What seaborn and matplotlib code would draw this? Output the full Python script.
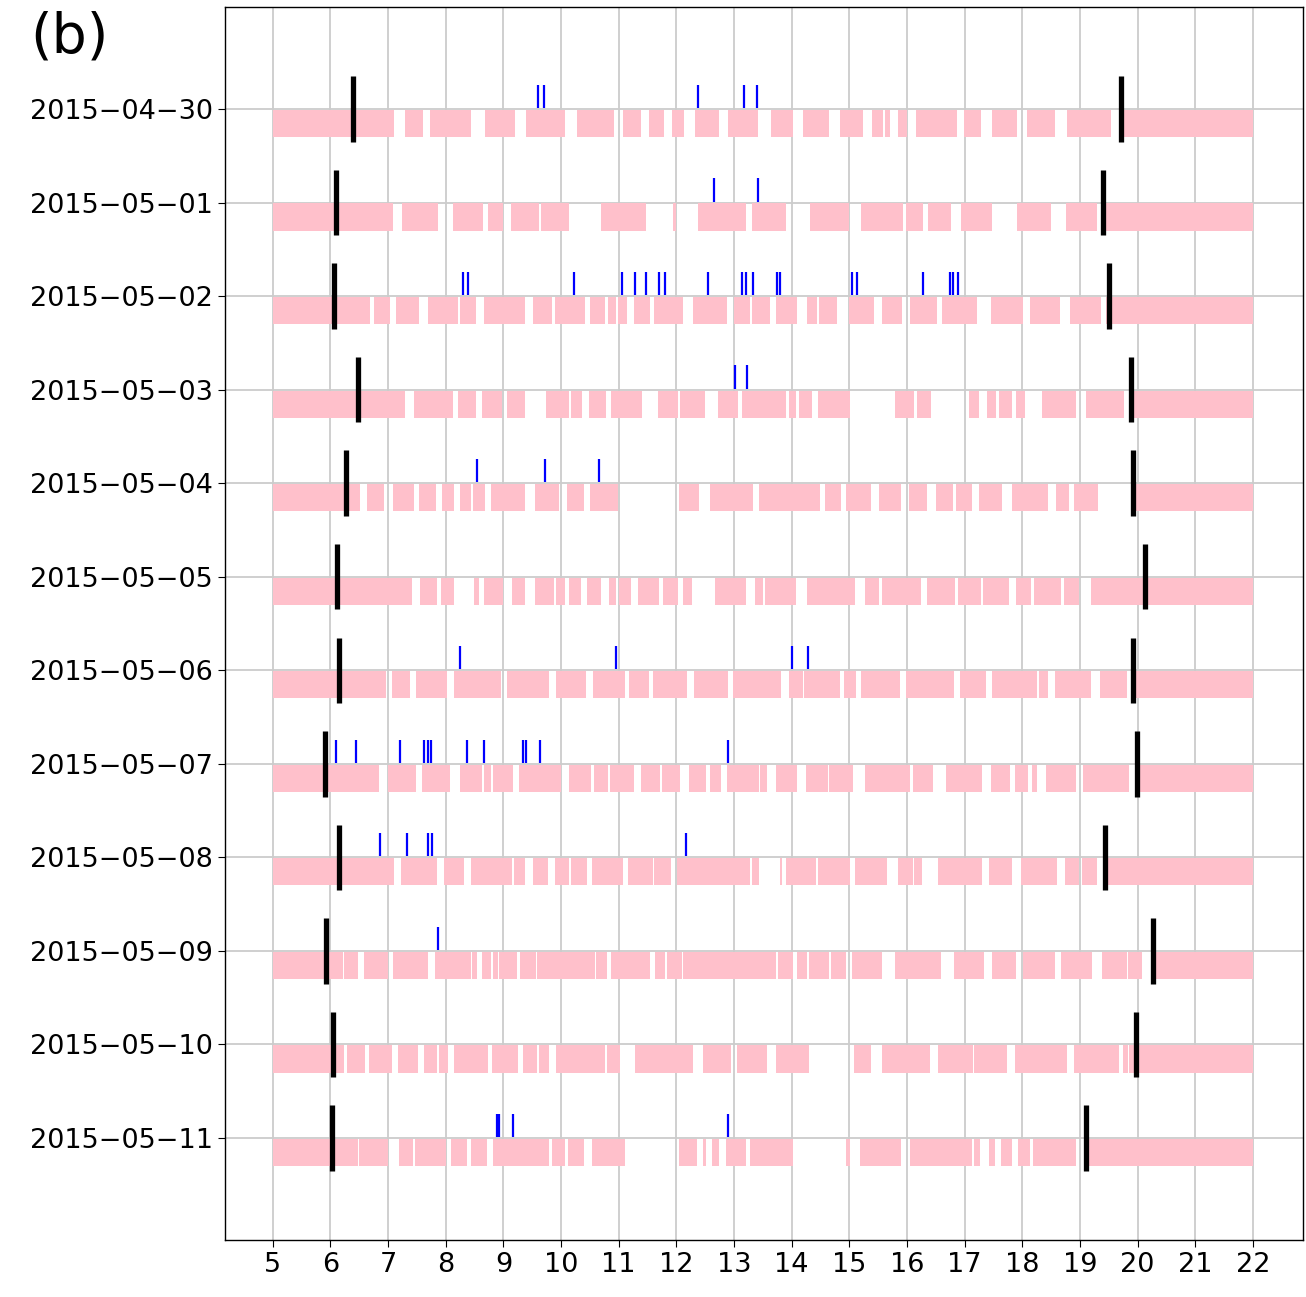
import matplotlib
matplotlib.use("Agg")
import matplotlib.pyplot as plt
import seaborn as sns
import pandas as pd

dates = ["2015\u221204\u221230", "2015\u221205\u221201", "2015\u221205\u221202", "2015\u221205\u221203",
         "2015\u221205\u221204", "2015\u221205\u221205", "2015\u221205\u221206", "2015\u221205\u221207",
         "2015\u221205\u221208", "2015\u221205\u221209", "2015\u221205\u221210", "2015\u221205\u221211"]

seg_0430 = [(5.00,7.10),(7.30,7.60),(7.73,8.44),(8.68,9.20),(9.39,10.07),(10.27,10.91),(11.07,11.38),(11.52,11.79),(11.93,12.13),(12.32,12.74),(12.89,13.41),(13.65,14.02),(14.19,14.65),(14.83,15.24),(15.40,15.59),(15.62,15.70),(15.84,16.00),(16.16,16.87),(16.99,17.28),(17.48,17.91),(18.09,18.56),(18.77,19.54),(19.71,22.00)]
seg_0501 = [(5.00,7.08),(7.24,7.87),(8.13,8.64),(8.74,8.99),(9.13,9.61),(9.66,10.13),(10.69,11.48),(11.95,11.99),(12.38,13.21),(13.31,13.90),(14.32,14.99),(15.20,15.93),(15.99,16.27),(16.36,16.76),(16.93,17.47),(17.91,18.49),(18.76,19.29),(19.44,22.00)]
seg_0502 = [(5.00,6.69),(6.76,7.03),(7.14,7.53),(7.69,8.21),(8.24,8.53),(8.67,9.38),(9.52,9.84),(9.90,10.41),(10.50,10.77),(10.81,10.95),(10.99,11.15),(11.27,11.55),(11.61,12.11),(12.29,12.88),(13.00,13.27),(13.31,13.62),(13.72,14.09),(14.26,14.44),(14.47,14.79),(15.00,15.43),(15.57,15.92),(16.06,16.52),(16.61,17.22),(17.45,18.01),(18.14,18.66),(18.83,19.37),(19.46,22.00)]
seg_0503 = [(5.00,7.30),(7.45,8.13),(8.21,8.52),(8.62,8.97),(9.06,9.38),(9.74,10.13),(10.17,10.37),(10.49,10.78),(10.87,11.40),(11.68,12.02),(12.06,12.49),(12.72,13.07),(13.14,13.90),(13.95,14.07),(14.13,14.35),(14.45,15.01),(15.79,16.12),(16.18,16.41),(17.07,17.25),(17.39,17.55),(17.60,17.83),(17.89,18.04),(18.35,18.94),(19.11,19.77),(19.90,22.00)]
seg_0504 = [(5.00,6.52),(6.63,6.92),(7.08,7.44),(7.53,7.83),(7.93,8.14),(8.25,8.44),(8.48,8.68),(8.78,9.37),(9.54,9.97),(10.11,10.39),(10.50,10.99),(12.05,12.39),(12.58,13.33),(13.43,14.50),(14.57,14.85),(14.95,15.37),(15.51,15.89),(16.03,16.34),(16.51,16.80),(16.85,17.13),(17.25,17.65),(17.83,18.44),(18.58,18.81),(18.90,19.32),(19.95,22.00)]
seg_0505 = [(5.00,7.41),(7.55,7.84),(7.91,8.15),(8.49,8.57),(8.66,9.00),(9.14,9.38),(9.55,9.87),(9.92,10.06),(10.14,10.34),(10.45,10.69),(10.83,10.96),(11.01,11.22),(11.34,11.70),(11.76,12.02),(12.11,12.27),(12.67,13.21),(13.36,13.50),(13.54,14.07),(14.27,15.10),(15.28,15.51),(15.56,16.25),(16.34,16.83),(16.88,17.29),(17.32,17.77),(17.90,18.16),(18.21,18.68),(18.73,18.99),(19.19,22.00)]
seg_0506 = [(5.00,6.97),(7.07,7.38),(7.49,8.02),(8.15,8.96),(9.07,9.79),(9.91,10.43),(10.55,11.11),(11.18,11.52),(11.60,12.18),(12.30,12.89),(12.99,13.82),(13.95,14.19),(14.22,14.83),(14.91,15.11),(15.21,15.88),(15.98,16.81),(16.92,17.37),(17.48,18.26),(18.29,18.44),(18.56,19.20),(19.35,19.82),(19.97,22.00)]
seg_0507 = [(5.00,6.85),(7.00,7.48),(7.59,8.07),(8.25,8.63),(8.67,8.79),(8.82,9.16),(9.27,9.99),(10.14,10.52),(10.57,10.82),(10.85,11.27),(11.39,11.71),(11.75,12.07),(12.22,12.51),(12.58,12.78),(12.88,13.43),(13.45,13.58),(13.72,14.09),(14.25,14.63),(14.65,15.07),(15.27,16.06),(16.10,16.45),(16.68,17.31),(17.45,17.78),(17.88,18.10),(18.17,18.26),(18.41,18.94),(19.06,19.86),(20.01,22.00)]
seg_0508 = [(5.00,7.10),(7.22,7.84),(7.97,8.32),(8.44,9.14),(9.18,9.38),(9.51,9.78),(9.89,10.14),(10.18,10.45),(10.54,11.07),(11.16,11.59),(11.62,11.90),(12.01,13.27),(13.31,13.44),(13.79,13.84),(13.91,14.43),(14.45,15.01),(15.09,15.66),(15.84,16.11),(16.13,16.26),(16.54,17.30),(17.43,17.83),(17.97,18.61),(18.75,18.98),(19.03,19.29),(19.44,22.00)]
seg_0509 = [(5.00,6.22),(6.24,6.47),(6.58,6.99),(7.09,7.69),(7.81,8.43),(8.46,8.54),(8.62,8.79),(8.82,8.90),(8.93,9.24),(9.29,9.57),(9.59,10.58),(10.61,10.80),(10.87,11.55),(11.63,11.80),(11.84,12.09),(12.11,13.72),(13.77,14.02),(14.09,14.26),(14.30,14.65),(14.68,14.95),(15.05,15.57),(15.79,16.59),(16.81,17.33),(17.47,17.90),(18.01,18.56),(18.67,19.21),(19.38,19.81),(19.84,20.08),(20.30,22.00)]
seg_0510 = [(5.00,6.23),(6.29,6.60),(6.67,7.06),(7.17,7.52),(7.63,7.85),(7.88,8.04),(8.15,8.74),(8.81,9.26),(9.34,9.58),(9.62,9.79),(9.91,10.76),(10.79,11.02),(11.28,12.28),(12.47,12.94),(13.05,13.57),(13.73,14.30),(15.08,15.38),(15.56,16.40),(16.54,17.15),(17.17,17.74),(17.87,18.77),(18.89,19.67),(19.75,19.83),(19.86,22.00)]
seg_0511 = [(5.00,6.47),(6.49,7.00),(7.18,7.43),(7.46,8.01),(8.09,8.36),(8.43,8.71),(8.82,9.79),(9.85,10.06),(10.12,10.39),(10.54,11.11),(12.04,12.35),(12.47,12.52),(12.62,12.74),(12.86,13.20),(13.27,14.03),(14.95,15.01),(15.18,15.90),(16.06,17.13),(17.16,17.27),(17.42,17.53),(17.63,17.83),(17.93,18.14),(18.18,18.93),(19.13,22.00)]

sunrise = [6.39, 6.10, 6.06, 6.47, 6.27, 6.12, 6.15, 5.91, 6.15, 5.93, 6.04, 6.03]
sunset = [19.71, 19.40, 19.51, 19.88, 19.92, 20.13, 19.92, 19.99, 19.44, 20.27, 19.97, 19.11]

ev_0430 = [9.60, 9.71, 12.37, 13.18, 13.40]
ev_0501 = [12.65, 13.41]
ev_0502 = [8.30, 8.38, 10.22, 11.06, 11.29, 11.48, 11.69, 11.81, 12.55, 13.13, 13.20, 13.33, 13.75, 13.80, 15.05, 15.13, 16.27, 16.75, 16.80, 16.89]
ev_0503 = [13.01, 13.22]
ev_0504 = [8.54, 9.72, 10.66]
ev_0505 = []
ev_0506 = [8.24, 10.96, 14.01, 14.28]
ev_0507 = [6.09, 6.44, 7.20, 7.62, 7.70, 7.74, 8.37, 8.67, 9.34, 9.40, 9.64, 12.90]
ev_0508 = [6.86, 7.32, 7.69, 7.76, 12.16]
ev_0509 = [7.86]
ev_0510 = []
ev_0511 = [8.88, 8.92, 9.17, 12.89]

xticks = list(range(5, 23))

segments = [seg_0430, seg_0501, seg_0502, seg_0503, seg_0504, seg_0505,
            seg_0506, seg_0507, seg_0508, seg_0509, seg_0510, seg_0511]
events = [ev_0430, ev_0501, ev_0502, ev_0503, ev_0504, ev_0505,
          ev_0506, ev_0507, ev_0508, ev_0509, ev_0510, ev_0511]

sns.set_theme(style="ticks", rc={
    "axes.edgecolor": "black",
    "axes.linewidth": 1.0,
    "grid.color": "#cccccc",
    "grid.linewidth": 1.3,
    "xtick.major.size": 5,
    "ytick.major.size": 5,
    "xtick.major.width": 0.8,
    "ytick.major.width": 0.8,
    "xtick.color": "black",
    "ytick.color": "black",
    "text.color": "black",
    "axes.labelcolor": "black",
})
plt.rcParams['font.family'] = ['DejaVu Sans']

fig = plt.figure(figsize=(13.06, 12.97), dpi=100)
ax = fig.add_axes([225/1306, 1 - 1240/1297, (1303-225)/1306, (1240-7)/1297])
ax.set_axisbelow(True)
ax.grid(True)

for i, segs in enumerate(segments):
    ax.broken_barh([(a, b - a) for a, b in segs], (i + 0.01, 0.29),
                   facecolors="pink", edgecolor="none")

ev_df = pd.DataFrame([(i, t) for i, evs in enumerate(events) for t in evs],
                     columns=["row", "time"])
ax.vlines(ev_df["time"], ev_df["row"] - 0.26, ev_df["row"] - 0.01,
          color="blue", linewidth=1.6)

rows = list(range(len(dates)))
ax.vlines(sunrise, [r - 0.35 for r in rows], [r + 0.35 for r in rows],
          color="black", linewidth=3.8)
ax.vlines(sunset, [r - 0.35 for r in rows], [r + 0.35 for r in rows],
          color="black", linewidth=3.8)

ax.set_xlim(4.17, 22.87)
ax.set_ylim(12.09, -1.09)
ax.set_xticks(xticks)
ax.set_xticklabels([str(t) for t in xticks], fontsize=19.5, color="black")
ax.set_yticks(rows)
ax.set_yticklabels(dates, fontsize=19.5, color="black")
ax.set_xlabel("")
ax.set_ylabel("")

fig.text(0.023, 0.992, "(b)", fontsize=40, va="top", ha="left", color="black")

fig.savefig("out.png", dpi=100)
